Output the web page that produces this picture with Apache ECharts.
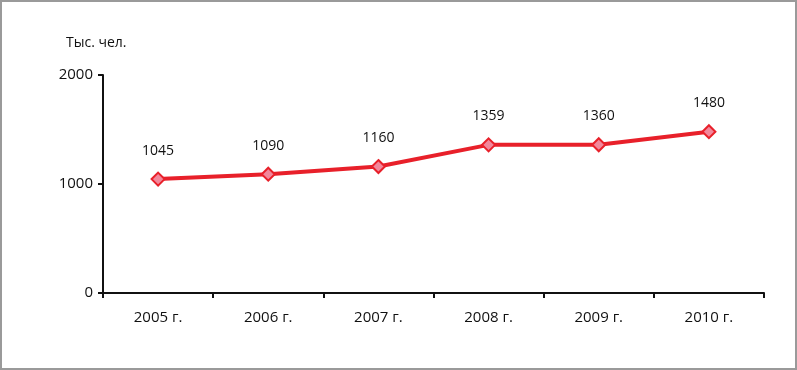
<!DOCTYPE html>
<html>
<head>
<meta charset="UTF-8">
<title>Тыс. чел.</title>
<script src="https://cdn.jsdelivr.net/npm/echarts@6/dist/echarts.min.js"></script>
</head>
<body style="margin:0;">
<div id="container" style="position:absolute;left:0;top:0;width:793px;height:366px;border:2px solid #9a9a9a;"></div>
<script type="text/javascript">
var years = ['2005 г.', '2006 г.', '2007 г.', '2008 г.', '2009 г.', '2010 г.'];
var values = [1045, 1090, 1160, 1359, 1360, 1480];
var unitLabel = 'Тыс. чел.';

var myChart = echarts.init(document.getElementById('container'));
var font = '"Open Sans", sans-serif';

var option = {
  animation: false,
  backgroundColor: '#fff',
  textStyle: { fontFamily: font },
  grid: { left: 101, right: 31, top: 73, bottom: 75 },
  graphic: [{
    type: 'text',
    left: 64,
    top: 34,
    style: { text: unitLabel, font: '14px ' + font, fill: '#111' }
  }],
  xAxis: {
    type: 'category',
    data: years,
    boundaryGap: true,
    axisLine: { lineStyle: { color: '#111', width: 2 } },
    axisTick: { show: true, length: 5, inside: false, lineStyle: { color: '#111', width: 2 } },
    axisLabel: { color: '#111', fontSize: 15, margin: 17, fontFamily: font }
  },
  yAxis: {
    type: 'value',
    min: 0,
    max: 2000,
    interval: 1000,
    splitLine: { show: false },
    axisLine: { show: true, lineStyle: { color: '#111', width: 2 } },
    axisTick: { show: true, length: 5, lineStyle: { color: '#111', width: 2 } },
    axisLabel: {
      color: '#111', fontSize: 15, margin: 10, fontFamily: font,
      formatter: function (v) { return String(v); }
    }
  },
  series: [{
    type: 'line',
    data: values,
    symbol: 'diamond',
    symbolSize: 13,
    lineStyle: { color: '#e8202a', width: 4 },
    itemStyle: { color: '#f2879b', borderColor: '#e8202a', borderWidth: 2 },
    label: {
      show: true,
      position: 'top',
      distance: 14,
      color: '#111',
      fontSize: 14,
      fontFamily: font
    }
  }]
};
myChart.setOption(option);
</script>
</body>
</html>
